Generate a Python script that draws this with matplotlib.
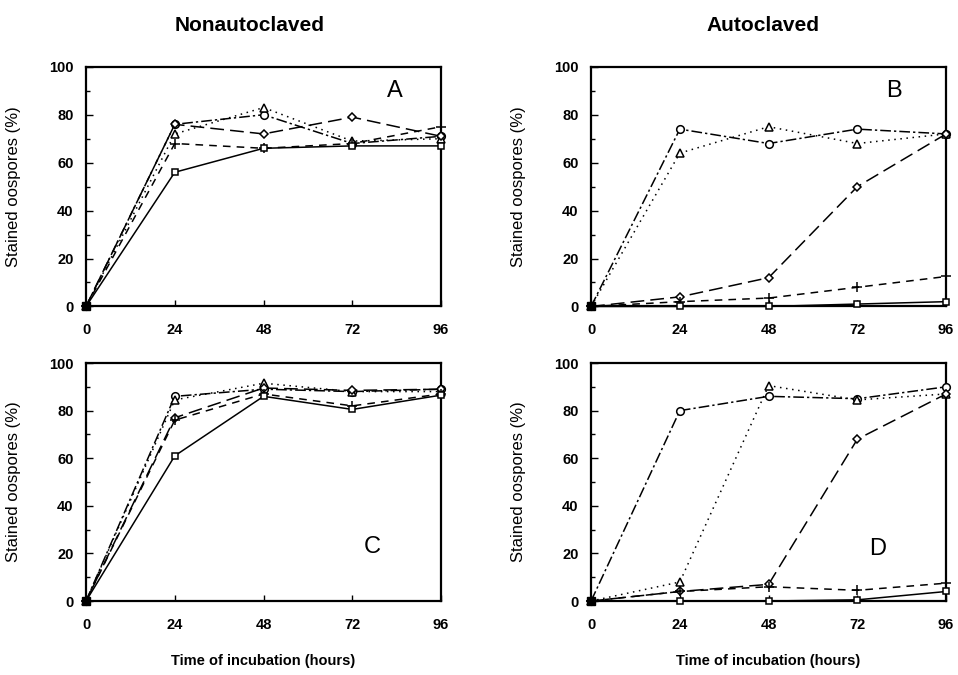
import matplotlib
matplotlib.use("Agg")
import matplotlib.pyplot as plt
from matplotlib.ticker import MultipleLocator

plt.rcParams['font.family'] = ['Liberation Sans', 'DejaVu Sans']

HOURS = [0, 24, 48, 72, 96]

# panel A (nonautoclaved)
A_circle = [0, 76, 80, 68, 71]
A_triangle = [0, 72, 83, 69, 70]
A_diamond = [0, 76, 72, 79, 71]
A_plus = [0, 68, 66, 68, 75]
A_square = [0, 56, 66, 67, 67]

# panel B (autoclaved)
B_circle = [0, 74, 68, 74, 72]
B_triangle = [0, 64, 75, 68, 72]
B_diamond = [0, 4, 12, 50, 72]
B_plus = [0, 2, 3.5, 8, 12.5]
B_square = [0, 0, 0, 1, 2]

# panel C (nonautoclaved)
C_circle = [0, 86, 89, 88, 89]
C_triangle = [0, 84.5, 91.5, 88, 88]
C_diamond = [0, 77, 89.5, 88.5, 89]
C_plus = [0, 76, 87, 82, 87]
C_square = [0, 61, 86, 80.5, 86.5]

# panel D (autoclaved)
D_circle = [0, 80, 86, 85, 90]
D_triangle = [0, 8, 90.5, 84.5, 87]
D_diamond = [0, 4, 7, 68, 87]
D_plus = [0, 4, 6, 4.5, 7.5]
D_square = [0, 0, 0, 0.5, 4]

PANELS = {
    "A": [A_circle, A_triangle, A_diamond, A_plus, A_square],
    "B": [B_circle, B_triangle, B_diamond, B_plus, B_square],
    "C": [C_circle, C_triangle, C_diamond, C_plus, C_square],
    "D": [D_circle, D_triangle, D_diamond, D_plus, D_square],
}
LETTER_POS = {"A": (83.5, 90), "B": (82, 90), "C": (77.5, 22.5), "D": (77.5, 22)}

MARKERS = ['o', '^', 'D', '+', 's']
STYLES = [(0, (7, 2, 1.5, 2)), (0, (1, 3)), (0, (9, 4)), (0, (5, 4)), '-']
MSIZES = [5.5, 5.5, 4, 7, 5]

fig = plt.figure(figsize=(9.58, 6.75), dpi=100)
axpos = {
    "A": [0.0898, 0.546, 0.3706, 0.355],
    "B": [0.617, 0.546, 0.3706, 0.355],
    "C": [0.0898, 0.1096, 0.3706, 0.3526],
    "D": [0.617, 0.1096, 0.3706, 0.3526],
}

for name, series in PANELS.items():
    ax = fig.add_axes(axpos[name])
    for vals, mk, ls, ms in zip(series, MARKERS, STYLES, MSIZES):
        ax.plot(HOURS, vals, color='black', linestyle=ls, linewidth=1.1,
                marker=mk, markersize=ms, markerfacecolor='white',
                markeredgewidth=1.1, clip_on=False, zorder=3)
    # all series start together at zero -> solid black square
    ax.plot(HOURS[0], series[4][0], 's', color='black', markersize=6,
            clip_on=False, zorder=4)
    ax.set_xlim(0, 96)
    ax.set_ylim(0, 100)
    ax.xaxis.set_major_locator(MultipleLocator(24))
    ax.yaxis.set_major_locator(MultipleLocator(20))
    ax.yaxis.set_minor_locator(MultipleLocator(10))
    ax.tick_params(axis='both', which='both', direction='in', top=False, right=False)
    ax.tick_params(axis='y', which='major', length=5, width=1, pad=9)
    ax.tick_params(axis='y', which='minor', length=3, width=1)
    ax.tick_params(axis='x', which='major', length=4, width=1, pad=12)
    for lab in ax.get_xticklabels() + ax.get_yticklabels():
        lab.set_fontweight('bold')
        lab.set_fontsize(10.5)
    for sp in ax.spines.values():
        sp.set_linewidth(1.6)
    ax.text(LETTER_POS[name][0], LETTER_POS[name][1], name, fontsize=17,
            ha='center', va='center')
    ax.set_ylabel("Stained oospores (%)", fontsize=12, labelpad=20)
    if name in ("C", "D"):
        ax.set_xlabel("Time of incubation (hours)", fontsize=10.5,
                      fontweight='bold', labelpad=16)

fig.text(0.261, 0.977, "Nonautoclaved", fontsize=15, fontweight='bold',
         ha='center', va='top')
fig.text(0.796, 0.977, "Autoclaved", fontsize=15, fontweight='bold',
         ha='center', va='top')

fig.savefig("out.png", dpi=100)
